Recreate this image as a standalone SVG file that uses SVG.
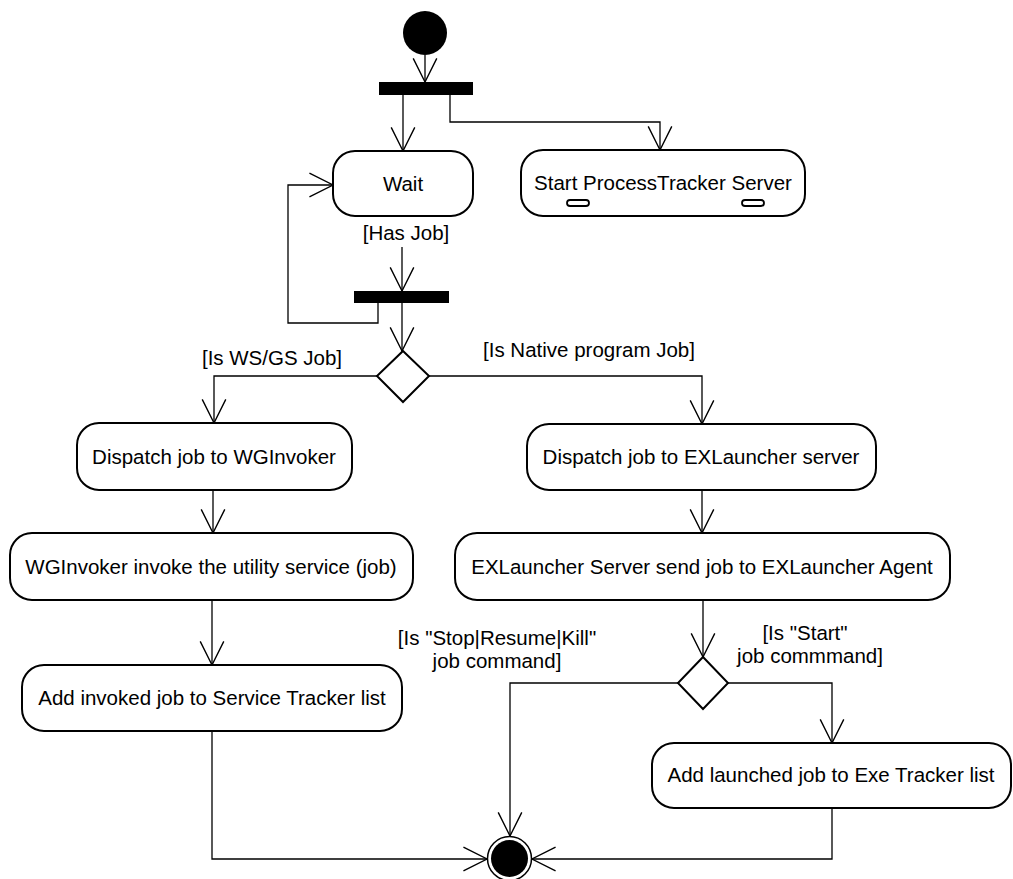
<svg xmlns="http://www.w3.org/2000/svg" width="1013" height="879" viewBox="0 0 1013 879">
  <defs>
    <marker id="open" markerUnits="userSpaceOnUse" markerWidth="30" markerHeight="30" refX="0" refY="0" viewBox="-24 -14 28 28" orient="auto" overflow="visible">
      <path d="M -22 -11 L 0 0 L -22 11" fill="none" stroke="#000" stroke-width="1.3"/>
    </marker>
    <style>
      .act { fill: #fff; stroke: #000; stroke-width: 2; }
      .bar { fill: #000; }
      .dec { fill: #fff; stroke: #000; stroke-width: 2; }
      .lbl { font-family: "Liberation Sans", Arial, sans-serif; font-size: 20.5px; fill: #000; text-anchor: middle; }
      .edge { fill: none; stroke: #000; stroke-width: 1.3; marker-end: url(#open); }
      .plain { fill: none; stroke: #000; stroke-width: 1.3; }
      .pin { fill: #fff; stroke: #000; stroke-width: 1.8; }
    </style>
  </defs>
  <rect width="1013" height="879" fill="#fff"/>

  <!-- connectors -->
  <g id="edges">
    <path class="edge" d="M 425 55 L 425 82"/>
    <path class="edge" d="M 403 95 L 403 151"/>
    <path class="edge" d="M 450 95 L 450 122 L 660 122 L 660 150"/>
    <path class="edge" d="M 402 247 L 402 291"/>
    <path class="edge" d="M 378 303 L 378 323 L 288 323 L 288 185 L 333 185"/>
    <path class="edge" d="M 402 303 L 402 351"/>
    <path class="edge" d="M 429 376 L 702 376 L 702 424"/>
    <path class="edge" d="M 377 376 L 214 376 L 214 423"/>
    <path class="edge" d="M 213 490 L 213 533"/>
    <path class="edge" d="M 212 600 L 212 665"/>
    <path class="edge" d="M 212 731 L 212 859 L 487 859"/>
    <path class="edge" d="M 702 490 L 702 533"/>
    <path class="edge" d="M 703 600 L 703 657"/>
    <path class="edge" d="M 678 683 L 510 683 L 510 836"/>
    <path class="edge" d="M 728 683 L 832 683 L 832 743"/>
    <path class="edge" d="M 832 808 L 832 859 L 532 859"/>
  </g>

  <!-- guard labels -->
  <g id="guards">
    <text class="lbl" x="406" y="240">[Has Job]</text>
    <text class="lbl" x="589" y="357">[Is Native program Job]</text>
    <text class="lbl" x="272" y="365">[Is WS/GS Job]</text>
    <text class="lbl" x="497" y="645">[Is "Stop|Resume|Kill"</text>
    <text class="lbl" x="497" y="668">job command]</text>
    <text class="lbl" x="805" y="640">[Is "Start"</text>
    <text class="lbl" x="810" y="663">job commmand]</text>
  </g>

  <g id="start">
    <circle cx="425" cy="33" r="22" fill="#000"/>
  </g>

  <g id="fork1">
    <rect class="bar" x="379" y="82" width="94" height="13"/>
  </g>

  <g id="wait">
    <rect class="act" x="333" y="151" width="140" height="65" rx="22"/>
    <text class="lbl" x="403" y="191">Wait</text>
  </g>

  <g id="startTracker">
    <rect class="act" x="521" y="150" width="284" height="66" rx="22"/>
    <text class="lbl" x="663" y="190">Start ProcessTracker Server</text>
    <rect class="pin" x="567" y="200" width="22" height="6" rx="3"/>
    <rect class="pin" x="742" y="200" width="22" height="6" rx="3"/>
  </g>

  <g id="fork2">
    <rect class="bar" x="354" y="291" width="95" height="12"/>
  </g>

  <g id="decision1">
    <polygon class="dec" points="403,351 429,376 403,402 377,376"/>
  </g>

  <g id="dispatchWG">
    <rect class="act" x="77" y="423" width="275" height="67" rx="22"/>
    <text class="lbl" x="214" y="464">Dispatch job to WGInvoker</text>
  </g>

  <g id="invokeService">
    <rect class="act" x="10" y="533" width="403" height="67" rx="22"/>
    <text class="lbl" x="211" y="574">WGInvoker invoke the utility service (job)</text>
  </g>

  <g id="addService">
    <rect class="act" x="22" y="665" width="380" height="66" rx="22"/>
    <text class="lbl" x="212" y="705">Add invoked job to Service Tracker list</text>
  </g>

  <g id="dispatchEX">
    <rect class="act" x="527" y="424" width="349" height="66" rx="22"/>
    <text class="lbl" x="701" y="464">Dispatch job to EXLauncher server</text>
  </g>

  <g id="sendAgent">
    <rect class="act" x="455" y="533" width="495" height="67" rx="22"/>
    <text class="lbl" x="702" y="574">EXLauncher Server send job to EXLauncher Agent</text>
  </g>

  <g id="decision2">
    <polygon class="dec" points="703,657 728,683 703,709 678,683"/>
  </g>

  <g id="addExe">
    <rect class="act" x="652" y="743" width="359" height="65" rx="22"/>
    <text class="lbl" x="831" y="782">Add launched job to Exe Tracker list</text>
  </g>

  <g id="end">
    <circle cx="509.5" cy="858.5" r="22" fill="#fff" stroke="#000" stroke-width="1.5"/>
    <circle cx="509.5" cy="858.5" r="18.5" fill="#000"/>
  </g>
</svg>
